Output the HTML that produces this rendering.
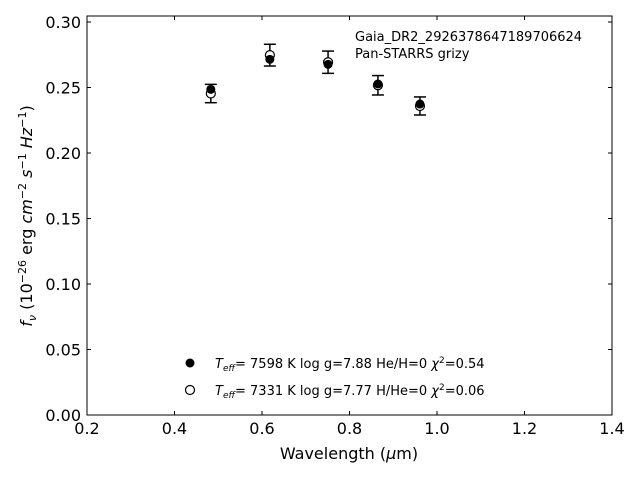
<!DOCTYPE html>
<html><head><meta charset="utf-8"><style>
body{margin:0;background:#fff;font-family:"Liberation Sans","DejaVu Sans",sans-serif}
svg text{font-family:"DejaVu Sans","Liberation Sans",sans-serif}
</style></head><body>
<svg width="640" height="480" viewBox="0 0 640 480">
<rect x="87" y="16" width="525" height="399" fill="none" stroke="#000" stroke-width="1"/>
<g id="ticks"></g>
<g id="marks"></g>
<text x="349" y="459" font-size="16" text-anchor="middle">Wavelength (<tspan font-style="italic">μ</tspan>m)</text>
<text transform="translate(32,216) rotate(-90)" font-size="16" text-anchor="middle"><tspan font-style="italic">f</tspan><tspan font-style="italic" font-size="11" dy="4">ν</tspan><tspan dy="-4"> (10</tspan><tspan font-size="11" dy="-6">−26</tspan><tspan dy="6"> erg </tspan><tspan font-style="italic">cm</tspan><tspan font-size="11" dy="-6">−2</tspan><tspan dy="6"> </tspan><tspan font-style="italic">s</tspan><tspan font-size="11" dy="-6">−1</tspan><tspan dy="6"> </tspan><tspan font-style="italic">Hz</tspan><tspan font-size="11" dy="-6">−1</tspan><tspan dy="6">)</tspan></text>
<text x="355" y="41" font-size="13">Gaia_DR2_2926378647189706624</text>
<text x="355" y="58" font-size="13">Pan-STARRS grizy</text>
<circle cx="190" cy="363" r="4.5" fill="#000"/>
<text x="215" y="368" font-size="13"><tspan font-style="italic">T</tspan><tspan font-style="italic" font-size="9" dy="3">eff</tspan><tspan dy="-3">=  7598 K  log g=7.88  He/H=0  </tspan><tspan font-style="italic">χ</tspan><tspan font-size="9" dy="-5">2</tspan><tspan dy="5">=0.54</tspan></text>
<circle cx="190" cy="390" r="4.5" fill="#fff" stroke="#000" stroke-width="1.2"/>
<text x="215" y="395" font-size="13"><tspan font-style="italic">T</tspan><tspan font-style="italic" font-size="9" dy="3">eff</tspan><tspan dy="-3">=  7331 K  log g=7.77  H/He=0  </tspan><tspan font-style="italic">χ</tspan><tspan font-size="9" dy="-5">2</tspan><tspan dy="5">=0.06</tspan></text>
</svg>
<script>
const wavelengths=[0.483,0.618,0.751,0.865,0.961];
const observedFlux=[0.2454,0.2747,0.2693,0.2517,0.2359];
const observedErr=[0.0070,0.0083,0.0085,0.0074,0.0069];
const modelFlux=[0.2486,0.2715,0.2677,0.2527,0.2374];
const xTicks=["0.2","0.4","0.6","0.8","1.0","1.2","1.4"];
const yTicks=["0.00","0.05","0.10","0.15","0.20","0.25","0.30"];
const NS="http://www.w3.org/2000/svg";
const X=v=>87+(v-0.2)*437.5;
const Y=v=>415-v*1310;
function mk(tag,attrs,parent){const e=document.createElementNS(NS,tag);for(const k in attrs)e.setAttribute(k,attrs[k]);parent.appendChild(e);return e;}
const tg=document.getElementById('ticks');
xTicks.forEach(t=>{const x=X(parseFloat(t));
 const l=mk('line',{x1:x,x2:x,y1:415,y2:411,stroke:'#000'},tg);
 
 
 const l2=mk('line',{x1:x,x2:x,y1:16,y2:20,stroke:'#000'},tg);
 
 
 const tx=mk('text',{x:x,y:434,'font-size':16,'text-anchor':'middle'},tg);tx.textContent=t;
 
 });
yTicks.forEach(t=>{const y=Y(parseFloat(t));
 const l=mk('line',{x1:87,x2:91,y1:y,y2:y,stroke:'#000'},tg);
 
 
 const l2=mk('line',{x1:612,x2:608,y1:y,y2:y,stroke:'#000'},tg);
 
 
 const tx=mk('text',{x:81,y:y+6,'font-size':16,'text-anchor':'end'},tg);tx.textContent=t;
 
 });
const mg=document.getElementById('marks');
wavelengths.forEach((w,i)=>{const x=X(w);
 const y1=Y(observedFlux[i]+observedErr[i]),y2=Y(observedFlux[i]-observedErr[i]);
 const g=mk('g',{stroke:'#000','stroke-width':1.5},mg);
 
 
 mk('line',{x1:x,x2:x,y1:y1,y2:y2},g);
 mk('line',{x1:x-6,x2:x+6,y1:y1,y2:y1},g);
 mk('line',{x1:x-6,x2:x+6,y1:y2,y2:y2},g);
 const o=mk('circle',{cx:x,cy:Y(observedFlux[i]),r:4.5,fill:'#fff',stroke:'#000','stroke-width':1.2},mg);
 
 
 const f=mk('circle',{cx:x,cy:Y(modelFlux[i]),r:4.5,fill:'#000'},mg);
 
 
});
</script>
</body></html>
